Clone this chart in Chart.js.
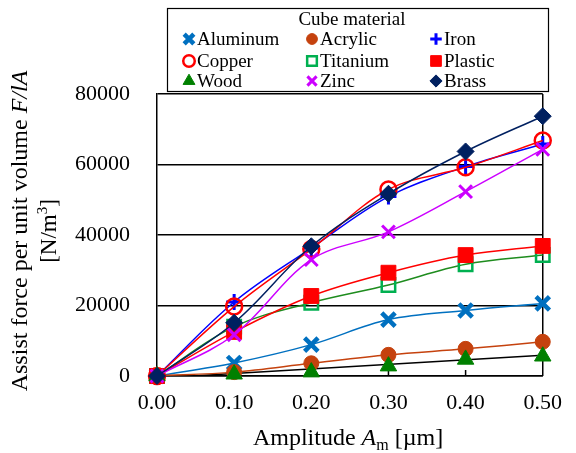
<!DOCTYPE html>
<html>
<head>
<meta charset="utf-8">
<script src="https://cdn.jsdelivr.net/npm/chart.js@4/dist/chart.umd.min.js"></script>
<style>
  html, body { margin: 0; padding: 0; background: #fff; }
  #wrap { width: 576px; height: 453px; position: relative; }
</style>
</head>
<body>
<div id="wrap"><canvas id="graphCanvas" width="576" height="453"></canvas></div>
<script>
// amplitude (um)
var amplitude = [0, 0.1, 0.2, 0.3, 0.4, 0.5];

// assist force per unit volume (N/m3)
var aluminum = [0, 3700, 8900, 16000, 18600, 20600];
var acrylic  = [0, 1100, 3600, 6000, 7700, 9700];
var iron     = [0, 21000, 36300, 50900, 59400, 65800];
var copper   = [0, 19700, 36000, 52900, 59200, 66800];
var titanium = [0, 14000, 20800, 25800, 31700, 34300];
var plastic  = [0, 12500, 22700, 29300, 34300, 36900];
var wood     = [0, 500, 1100, 2800, 4700, 5600];
var zinc     = [0, 11700, 33000, 40900, 52300, 64300];
var brass    = [0, 15100, 36800, 51700, 63700, 73700];

// black straight line through the wood points (end points)
var woodLineX = [0.045, 0.5];
var woodLineY = [0, 5900];

var xTicks = [0, 0.1, 0.2, 0.3, 0.4, 0.5];
var yTicks = [0, 20000, 40000, 60000, 80000];

var materials = ['Aluminum', 'Acrylic', 'Iron', 'Copper', 'Titanium', 'Plastic', 'Wood', 'Zinc', 'Brass'];
var seriesValues = [aluminum, acrylic, iron, copper, titanium, plastic, wood, zinc, brass];

var styles = [
    {point: 'crossRot', color: '#0070C0', line: '#0070C0', fill: '#0070C0', r: 9.5, bw: 4.5},
    {point: 'circle',   color: '#C5420E', line: '#C5420E', fill: '#C5420E', r: 7.5, bw: 1},
    {point: 'cross',    color: '#0000FF', line: '#0000FF', fill: '#0000FF', r: 8, bw: 3},
    {point: 'circle',   color: '#FF0000', line: '#FF0000', fill: 'rgba(0,0,0,0)', r: 8, bw: 2.5},
    {point: 'rect',     color: '#00B050', line: '#1E8C1E', fill: 'rgba(0,0,0,0)', r: 9.5, bw: 2.5},
    {point: 'rect',     color: '#FF0000', line: '#FF0000', fill: '#FF0000', r: 10.5, bw: 1},
    {point: 'triangle', color: '#008000', line: '#000000', fill: '#008000', r: 9.5, bw: 1},
    {point: 'crossRot', color: '#CC00FF', line: '#CC00FF', fill: '#CC00FF', r: 9, bw: 3},
    {point: 'rectRot',  color: '#002060', line: '#002060', fill: '#002060', r: 8.5, bw: 1}
];

function toPoints(xs, ys) {
    var pts = [];
    for (var i in xs) {
        pts.push({x: xs[i], y: ys[i]});
    }
    return pts;
}

var datasets = [];
for (var i = 0; i < materials.length; i++) {
    var s = styles[i];
    datasets.push({
        label: materials[i],
        data: toPoints(amplitude, seriesValues[i]),
        borderColor: s.line,
        borderWidth: 1.5,
        showLine: materials[i] != 'Wood',
        tension: 0.35,
        clip: false,
        pointStyle: s.point,
        pointRadius: s.r,
        pointHoverRadius: s.r,
        pointBorderColor: s.color,
        pointBackgroundColor: s.fill,
        pointBorderWidth: s.bw,
        order: materials.length - i
    });
}
datasets.push({
    label: 'wood line',
    data: toPoints(woodLineX, woodLineY),
    borderColor: '#000',
    borderWidth: 1.5,
    pointRadius: 0,
    order: 20
});

var serif = "'Liberation Serif', 'Times New Roman', serif";

// legend, axis titles, inner ticks and right frame
var extras = {
    id: 'extras',
    beforeDatasetsDraw: function(chart) {
        var ctx = chart.ctx;
        var a = chart.chartArea;
        var xs = chart.scales.x;
        ctx.save();
        ctx.strokeStyle = '#000';
        ctx.lineWidth = 1.5;
        ctx.beginPath();
        ctx.moveTo(a.right, a.top);
        ctx.lineTo(a.right, a.bottom);
        for (var k = 1; k < xTicks.length; k++) {
            var px = xs.getPixelForValue(xTicks[k]);
            ctx.moveTo(px, a.bottom);
            ctx.lineTo(px, a.bottom - 6);
        }
        ctx.stroke();
        ctx.restore();
    },
    afterDraw: function(chart) {
        var ctx = chart.ctx;
        ctx.save();
        ctx.fillStyle = '#000';
        ctx.textBaseline = 'alphabetic';

        // x title
        var parts = [
            {t: 'Amplitude ', f: '24px ' + serif, dy: 0},
            {t: 'A', f: 'italic 24px ' + serif, dy: 0},
            {t: 'm', f: '16px ' + serif, dy: 5},
            {t: ' [\u00B5m]', f: '24px ' + serif, dy: 0}
        ];
        drawParts(ctx, parts, 348, 445);

        // y title
        ctx.save();
        ctx.translate(27, 231);
        ctx.rotate(-Math.PI / 2);
        drawParts(ctx, [
            {t: 'Assist force per unit volume ', f: '24px ' + serif, dy: 0},
            {t: 'F/lA', f: 'italic 24px ' + serif, dy: 0}
        ], 0, 0);
        ctx.restore();
        ctx.save();
        ctx.translate(56, 231);
        ctx.rotate(-Math.PI / 2);
        drawParts(ctx, [
            {t: '[N/m', f: '23px ' + serif, dy: 0},
            {t: '3', f: '15px ' + serif, dy: -9},
            {t: ']', f: '23px ' + serif, dy: 0}
        ], 0, 0);
        ctx.restore();

        // legend box
        ctx.strokeStyle = '#000';
        ctx.lineWidth = 1.2;
        ctx.strokeRect(167.5, 8.5, 381, 83);
        ctx.font = '19px ' + serif;
        ctx.textAlign = 'center';
        ctx.fillText('Cube material', 352, 25);
        ctx.textAlign = 'left';
        var colX = [189, 312, 436];
        var rowY = [39, 61, 81];
        for (var i = 0; i < materials.length; i++) {
            var s = styles[i];
            var mx = colX[i % 3];
            var my = rowY[Math.floor(i / 3)];
            ctx.save();
            ctx.fillStyle = s.fill;
            ctx.strokeStyle = s.color;
            ctx.lineWidth = s.bw;
            Chart.helpers.drawPoint(ctx, {pointStyle: s.point, radius: s.r * 0.72, rotation: 0, borderWidth: s.bw}, mx, my);
            ctx.restore();
            ctx.fillStyle = '#000';
            ctx.font = '19px ' + serif;
            ctx.fillText(materials[i], mx + 8, my + 6);
        }
        ctx.restore();
    }
};

function drawParts(ctx, parts, cx, baseY) {
    var total = 0;
    for (var i in parts) {
        ctx.font = parts[i].f;
        parts[i].w = ctx.measureText(parts[i].t).width;
        total += parts[i].w;
    }
    var x = cx - total / 2;
    ctx.textAlign = 'left';
    for (var j in parts) {
        ctx.font = parts[j].f;
        ctx.fillText(parts[j].t, x, baseY + parts[j].dy);
        x += parts[j].w;
    }
}

var ctx = document.getElementById('graphCanvas');
var graph = new Chart(ctx, {
    type: 'line',
    data: {datasets: datasets},
    plugins: [extras],
    options: {
        responsive: false,
        animation: false,
        events: [],
        layout: {padding: {top: 94, right: 27, left: 0, bottom: 0}},
        plugins: {legend: {display: false}, tooltip: {enabled: false}},
        scales: {
            x: {
                type: 'linear',
                min: 0,
                max: 0.5,
                afterBuildTicks: function(scale) {
                    scale.ticks = xTicks.map(function(v) { return {value: v}; });
                },
                afterFit: function(scale) { scale.height = 77; },
                ticks: {
                    callback: function(v) { return Number(v).toFixed(2); },
                    font: {family: serif, size: 22},
                    color: '#000',
                    padding: 14,
                    maxRotation: 0
                },
                grid: {drawOnChartArea: false, drawTicks: false},
                border: {color: '#000', width: 1.5}
            },
            y: {
                min: 0,
                max: 80000,
                afterBuildTicks: function(scale) {
                    scale.ticks = yTicks.map(function(v) { return {value: v}; });
                },
                afterFit: function(scale) { scale.width = 157; },
                ticks: {
                    callback: function(v) { return String(v); },
                    font: {family: serif, size: 22},
                    color: '#000',
                    padding: 27
                },
                grid: {color: '#000', lineWidth: 1.5, drawTicks: false},
                border: {color: '#000', width: 1.5}
            }
        }
    }
});
</script>
</body>
</html>
